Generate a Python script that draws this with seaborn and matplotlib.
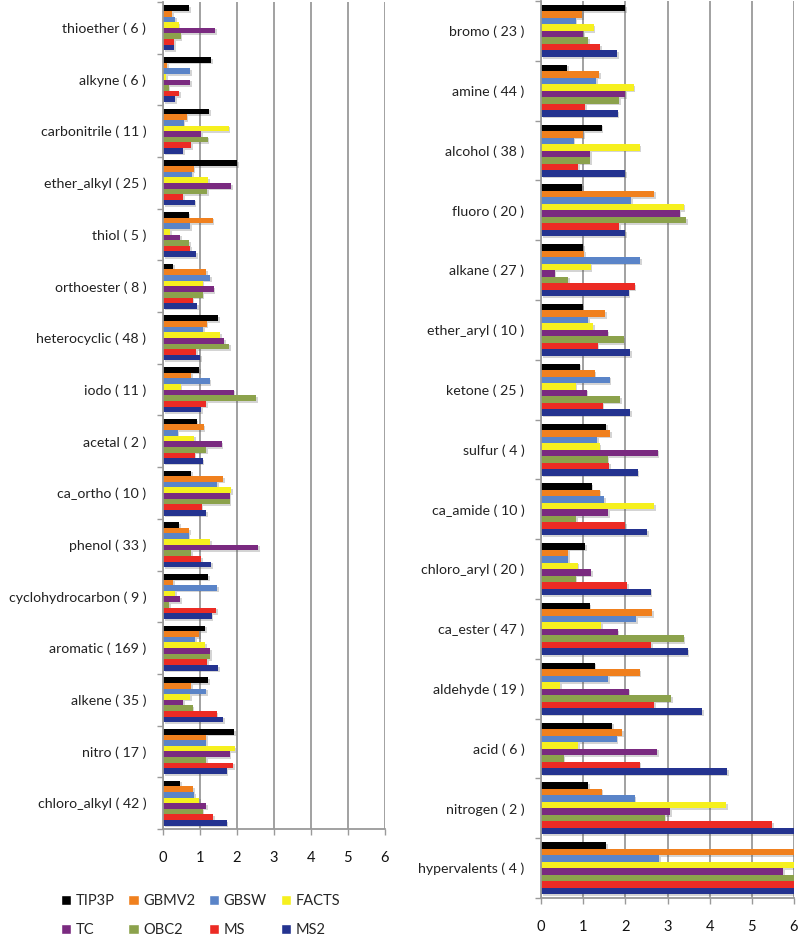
import numpy as np
import pandas as pd
import matplotlib.pyplot as plt
import matplotlib.patheffects as pe
from matplotlib.patches import Patch
import seaborn as sns

# series names and colours
models = ['TIP3P', 'GBMV2', 'GBSW', 'FACTS', 'TC', 'OBC2', 'MS', 'MS2']
colors = ['#000000', '#F0801E', '#5A84C8', '#F6F01E', '#7A2A80', '#8CA24C', '#EC2B24', '#243390']

# left panel
left_groups = ['thioether ( 6 )', 'alkyne ( 6 )', 'carbonitrile ( 11 )', 'ether_alkyl ( 25 )',
               'thiol ( 5 )', 'orthoester ( 8 )', 'heterocyclic ( 48 )', 'iodo ( 11 )',
               'acetal ( 2 )', 'ca_ortho ( 10 )', 'phenol ( 33 )', 'cyclohydrocarbon ( 9 )',
               'aromatic ( 169 )', 'alkene ( 35 )', 'nitro ( 17 )', 'chloro_alkyl ( 42 )']
left_tip3p = [0.71, 1.30, 1.25, 2.00, 0.69, 0.27, 1.49, 0.98, 0.91, 0.77, 0.44, 1.22, 1.14, 1.23, 1.93, 0.46]
left_gbmv2 = [0.24, 0.12, 0.64, 0.83, 1.34, 1.16, 1.18, 0.76, 1.10, 1.62, 0.71, 0.27, 0.98, 0.76, 1.16, 0.82]
left_gbsw = [0.33, 0.74, 0.56, 0.78, 0.73, 1.27, 1.09, 1.26, 0.40, 1.46, 0.69, 1.47, 0.87, 1.16, 1.16, 0.85]
left_facts = [0.42, 0.09, 1.78, 1.23, 0.20, 1.07, 1.55, 0.48, 0.84, 1.85, 1.27, 0.33, 1.14, 0.74, 1.94, 0.98]
left_tc = [1.42, 0.74, 1.04, 1.85, 0.47, 1.37, 1.66, 1.91, 1.59, 1.80, 2.57, 0.47, 1.28, 0.54, 1.80, 1.17]
left_obc2 = [0.48, 0.15, 1.21, 1.19, 0.71, 1.07, 1.79, 2.52, 1.16, 1.80, 0.77, 0.16, 1.28, 0.80, 1.16, 1.07]
left_ms = [0.31, 0.44, 0.76, 0.54, 0.74, 0.80, 0.89, 1.16, 0.86, 1.05, 1.04, 1.43, 1.20, 1.45, 1.89, 1.36]
left_ms2 = [0.31, 0.32, 0.54, 0.86, 0.89, 0.93, 1.01, 1.03, 1.07, 1.17, 1.30, 1.32, 1.49, 1.63, 1.72, 1.72]

# right panel (values past 6 run off the axis in the original)
right_groups = ['bromo ( 23 )', 'amine ( 44 )', 'alcohol ( 38 )', 'fluoro ( 20 )', 'alkane ( 27 )',
                'ether_aryl ( 10 )', 'ketone ( 25 )', 'sulfur ( 4 )', 'ca_amide ( 10 )',
                'chloro_aryl ( 20 )', 'ca_ester ( 47 )', 'aldehyde ( 19 )', 'acid ( 6 )',
                'nitrogen ( 2 )', 'hypervalents ( 4 )']
right_tip3p = [2.00, 0.62, 1.44, 0.98, 1.00, 0.99, 0.92, 1.54, 1.20, 1.05, 1.15, 1.27, 1.68, 1.11, 1.54]
right_gbmv2 = [0.97, 1.38, 1.00, 2.69, 1.03, 1.52, 1.27, 1.64, 1.39, 0.65, 2.63, 2.34, 1.92, 1.44, 7.0]
right_gbsw = [0.82, 1.31, 0.77, 2.14, 2.35, 1.12, 1.63, 1.33, 1.49, 0.65, 2.26, 1.59, 1.79, 2.22, 2.80]
right_facts = [1.25, 2.20, 2.34, 3.38, 1.18, 1.23, 0.82, 1.39, 2.68, 0.87, 1.43, 0.46, 0.88, 4.39, 7.0]
right_tc = [1.00, 2.00, 1.16, 3.29, 0.32, 1.58, 1.08, 2.77, 1.59, 1.19, 1.82, 2.08, 2.76, 3.06, 5.74]
right_obc2 = [1.11, 1.86, 1.16, 3.44, 0.65, 1.96, 1.88, 1.58, 0.83, 0.82, 3.38, 3.08, 0.54, 2.93, 7.0]
right_ms = [1.40, 1.05, 0.88, 1.86, 2.22, 1.34, 1.46, 1.62, 2.00, 2.04, 2.62, 2.69, 2.34, 5.48, 7.0]
right_ms2 = [1.80, 1.82, 2.00, 2.00, 2.08, 2.11, 2.12, 2.29, 2.51, 2.60, 3.48, 3.82, 4.41, 7.0, 7.0]

xticks = [0, 1, 2, 3, 4, 5, 6]


def long_df(groups, series):
    rows = []
    for name, vals in zip(models, series):
        for g, v in zip(groups, vals):
            rows.append({'group': g, 'model': name, 'value': v})
    return pd.DataFrame(rows)


df_left = long_df(left_groups, [left_tip3p, left_gbmv2, left_gbsw, left_facts,
                                left_tc, left_obc2, left_ms, left_ms2])
df_right = long_df(right_groups, [right_tip3p, right_gbmv2, right_gbsw, right_facts,
                                  right_tc, right_obc2, right_ms, right_ms2])

sns.set_theme(style="white")
plt.rcParams['font.family'] = ['Lato', 'DejaVu Sans']

fig = plt.figure(figsize=(8, 9.38), dpi=100)
ax_l = fig.add_axes([0.2038, 0.1162, 0.2770, 0.8817])
ax_r = fig.add_axes([0.6763, 0.0426, 0.3162, 0.9563])

shadow = [pe.SimplePatchShadow(offset=(1.2, -1.2), shadow_rgbFace='#555555', alpha=0.25), pe.Normal()]

for ax, df, groups in [(ax_l, df_left, left_groups), (ax_r, df_right, right_groups)]:
    sns.barplot(data=df, y='group', x='value', hue='model', order=groups, hue_order=models,
                palette=colors, orient='h', width=0.87, errorbar=None, saturation=1,
                legend=False, ax=ax)
    for p in ax.patches:
        p.set_linewidth(0)
        p.set_path_effects(shadow)
    ax.set_xlim(0, 6)
    ax.set_xticks(xticks)
    ax.set_xlabel('')
    ax.set_ylabel('')
    ax.xaxis.grid(True, color='#9a9a9a', linewidth=1.3)
    ax.set_axisbelow(True)
    for s in ['top', 'right']:
        ax.spines[s].set_visible(False)
    for s in ['left', 'bottom']:
        ax.spines[s].set_color('#9a9a9a')
        ax.spines[s].set_linewidth(1.3)
    ax.set_yticks(np.arange(-0.5, len(groups)), minor=True)
    ax.tick_params(axis='y', which='major', length=0, pad=12, labelsize=10.2, colors='#222222')
    ax.tick_params(axis='y', which='minor', length=4, width=1, color='#9a9a9a', left=True)
    ax.tick_params(axis='x', which='major', length=4, width=1, color='#9a9a9a', bottom=True,
                   direction='out', pad=12, labelsize=10.5, labelcolor='#111111')

# legend under the left panel, row order as in the original
color_of = dict(zip(models, colors))
order = ['TIP3P', 'TC', 'GBMV2', 'OBC2', 'GBSW', 'MS', 'FACTS', 'MS2']
fig.legend([Patch(facecolor=color_of[k]) for k in order], order, ncol=4, loc='lower left',
           bbox_to_anchor=(0.06, -0.013), frameon=False, fontsize=10.5,
           handlelength=0.7, handleheight=0.7, handletextpad=0.3,
           columnspacing=0.95, labelspacing=1.0)

plt.savefig('out.png', dpi=100)
